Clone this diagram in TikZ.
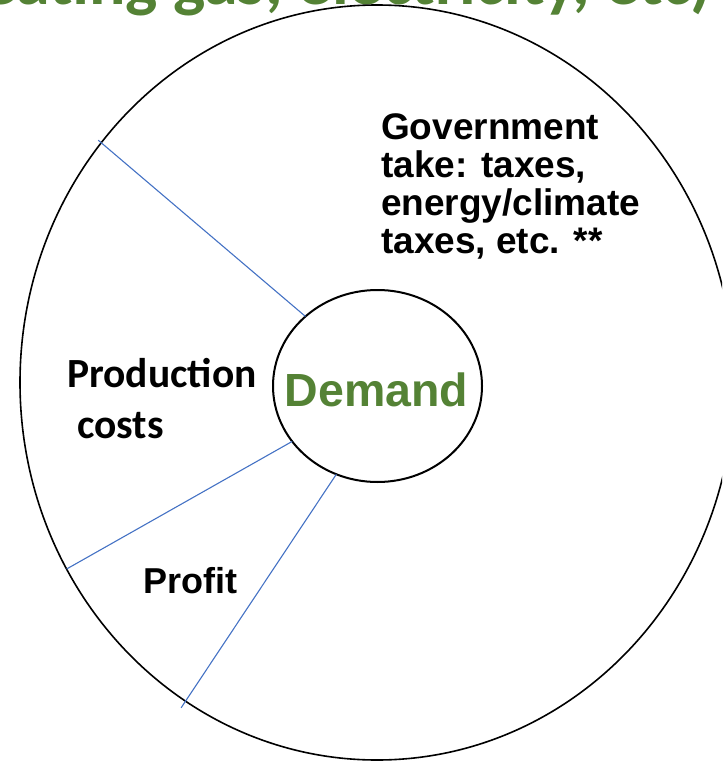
\documentclass[tikz,border=0pt]{standalone}
\usepackage{fontspec}
\usetikzlibrary{shapes.geometric}
\newfontfamily\calib{Carlito}
\newfontfamily\arialsans{Liberation Sans}
\definecolor{leafgreen}{RGB}{84,130,53}
\definecolor{divblue}{RGB}{68,114,196}
\tikzset{
  ring/.style={ellipse, draw=black, inner sep=0pt, outer sep=0pt},
  divider/.style={draw=divblue, line width=1.1pt},
  armlabel/.style={font=\arialsans\bfseries\fontsize{37}{38}\selectfont, inner sep=0pt, anchor=base west, align=left},
  calilabel/.style={font=\calib\bfseries\fontsize{41.5}{51}\selectfont, inner sep=0pt, anchor=base west, align=left}
}
\begin{document}
\begin{tikzpicture}[x=1pt,y=-1pt]
\useasboundingbox (0,0) rectangle (722,762);
\clip (0,0) rectangle (722,762);

% heading, mostly above the page edge
\node[font=\calib\bfseries\fontsize{68}{74}\selectfont, text=leafgreen, inner sep=0pt, anchor=base east] (heading) at (712,5) {heating gas, electricity, etc)};

% outer ring and the demand circle
\node[ring, line width=1.6pt, minimum width=714pt, minimum height=755pt] (outer) at (377,382.5) {};
\node[ring, line width=2pt, minimum width=209pt, minimum height=192pt] (inner) at (377.5,386) {};
\node[font=\arialsans\bfseries\fontsize{46.5}{50}\selectfont, text=leafgreen, inner sep=0pt, anchor=base] (demand) at (376.5,406.5) {Demand};

% dividers between the segments
\draw[divider, shorten >=-4pt] (inner.136.8) -- (outer.139.1);
\draw[divider] (inner.213.1) -- (outer.211.2);
\draw[divider, shorten >=-8pt] (inner.245.8) -- (outer.239.6);

% segment labels (base of a multi-line node is its last line)
\node[armlabel] (gov) at (381,253) {Government\\take: taxes,\\energy/climate\\taxes, etc. **};
\node[calilabel] (prod) at (67,387) {Production};
\node[calilabel] (costs) at (77,438) {costs};
\node[armlabel, font=\arialsans\bfseries\fontsize{36}{40}\selectfont] (profit) at (143,593) {Profit};
\end{tikzpicture}
\end{document}
